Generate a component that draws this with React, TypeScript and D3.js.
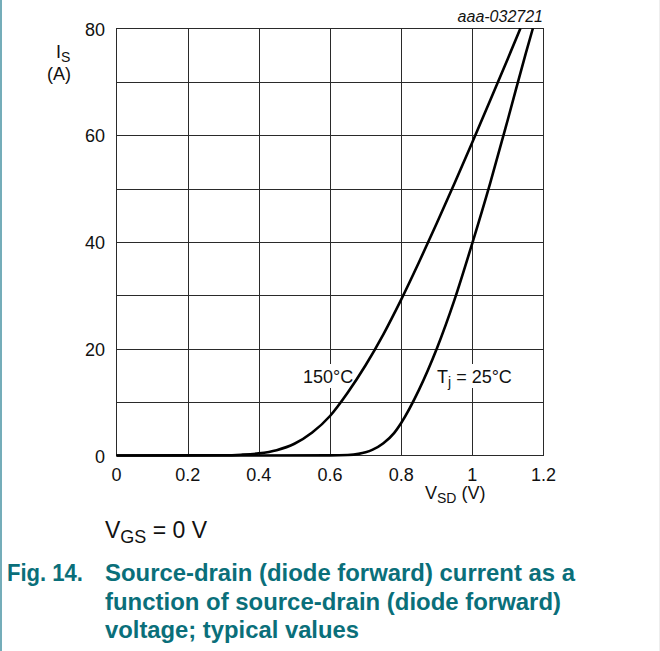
// App.tsx
// diode forward characteristic, drawn with d3 into an svg via ref

import React, { useEffect, useRef } from 'react'
import * as d3 from 'd3'

// source-drain voltage (V) and current (A)
const vsd150 = [0, 0.3, 0.35, 0.4, 0.45, 0.5, 0.55, 0.6, 0.65, 0.7, 0.75, 0.8, 0.85, 0.9, 0.95, 1.0, 1.05, 1.1, 1.135]
const is150 = [0, 0.05, 0.15, 0.4, 1.0, 2.2, 4.3, 7.4, 11.8, 16.9, 22.7, 29.2, 36.2, 43.5, 51.0, 58.7, 66.5, 74.4, 80]

const vsd25 = [0, 0.6, 0.65, 0.68, 0.7, 0.72, 0.75, 0.78, 0.8, 0.85, 0.9, 0.95, 1.0, 1.05, 1.1, 1.15, 1.17]
const is25 = [0, 0.02, 0.1, 0.3, 0.6, 1.1, 2.3, 4.2, 6.1, 12.3, 20, 29.2, 39.8, 51.0, 63.0, 75.3, 80]

const xTicks = [0, 0.2, 0.4, 0.6, 0.8, 1, 1.2]
const yTicks = [0, 20, 40, 60, 80]
const xGrid = [0.2, 0.4, 0.6, 0.8, 1.0]
const yGrid = [10, 20, 30, 40, 50, 60, 70]

const captionLines = [
  'Source-drain (diode forward) current as a',
  'function of source-drain (diode forward)',
  'voltage; typical values'
]

function App () {
  const ref = useRef<SVGSVGElement>(null)

  useEffect(() => {
    const svg = d3.select(ref.current)
    svg.selectAll('*').remove()

    const font = 'Arial, "Liberation Sans", sans-serif'
    const teal = '#0a6f7a'

    const x = d3.scaleLinear().domain([0, 1.2]).range([116.5, 543.5])
    const y = d3.scaleLinear().domain([0, 80]).range([455.5, 28.5])

    // left page border
    svg.append('line')
      .attr('x1', 1).attr('x2', 1).attr('y1', 0).attr('y2', 651)
      .attr('stroke', '#74adb9').attr('stroke-width', 2)
    svg.append('line')
      .attr('x1', 659.5).attr('x2', 659.5).attr('y1', 0).attr('y2', 651)
      .attr('stroke', '#eeeeee').attr('stroke-width', 1)

    // grid
    const grid = svg.append('g').attr('stroke', '#2a2a2a').attr('stroke-width', 1)
    grid.selectAll('.vg').data(xGrid).enter().append('line')
      .attr('x1', d => Math.round(x(d)) + 0.5).attr('x2', d => Math.round(x(d)) + 0.5)
      .attr('y1', y(0)).attr('y2', y(80))
    grid.selectAll('.hg').data(yGrid).enter().append('line')
      .attr('y1', d => Math.round(y(d)) + 0.5).attr('y2', d => Math.round(y(d)) + 0.5)
      .attr('x1', x(0)).attr('x2', x(1.2))
    grid.append('rect')
      .attr('x', x(0)).attr('y', y(80))
      .attr('width', x(1.2) - x(0)).attr('height', y(0) - y(80))
      .attr('fill', 'none')

    // white boxes behind curve labels
    svg.append('rect').attr('x', 302).attr('y', 364).attr('width', 53).attr('height', 24).attr('fill', '#fff')
    svg.append('rect').attr('x', 434).attr('y', 364).attr('width', 82).attr('height', 24).attr('fill', '#fff')

    // curves
    const line = d3.line<[number, number]>()
      .x(d => x(d[0]))
      .y(d => y(d[1]))
      .curve(d3.curveMonotoneX)

    const series = [
      d3.zip(vsd150, is150) as [number, number][],
      d3.zip(vsd25, is25) as [number, number][]
    ]
    svg.append('g').selectAll('path').data(series).enter().append('path')
      .attr('d', d => line(d))
      .attr('fill', 'none')
      .attr('stroke', '#000')
      .attr('stroke-width', 2.6)
      .attr('stroke-linejoin', 'round')

    // tick labels
    svg.append('g').selectAll('text').data(xTicks).enter().append('text')
      .attr('x', d => x(d)).attr('y', 481)
      .attr('text-anchor', 'middle')
      .attr('font-family', font).attr('font-size', 18).attr('fill', '#111')
      .text(d => String(d))
    svg.append('g').selectAll('text').data(yTicks).enter().append('text')
      .attr('x', 105).attr('y', d => y(d) + 7)
      .attr('text-anchor', 'end')
      .attr('font-family', font).attr('font-size', 18).attr('fill', '#111')
      .text(d => String(d))

    const txt = (px: number, py: number, size: number) => svg.append('text')
      .attr('x', px).attr('y', py)
      .attr('font-family', font).attr('font-size', size).attr('fill', '#111')

    // axis labels
    const ys = txt(56, 58, 18)
    ys.append('tspan').text('I')
    ys.append('tspan').attr('font-size', 14).attr('dy', 4).text('S')
    txt(47, 80, 18).text('(A)')

    const xs = txt(425, 499, 18)
    xs.append('tspan').text('V')
    xs.append('tspan').attr('font-size', 14).attr('dy', 4).text('SD')
    xs.append('tspan').attr('dy', -4).text(' (V)')

    txt(543, 22, 16).attr('text-anchor', 'end').attr('font-style', 'italic').text('aaa-032721')

    // curve labels
    txt(303, 383, 18).text('150°C')
    const tj = txt(437, 383, 18)
    tj.append('tspan').text('T')
    tj.append('tspan').attr('font-size', 14).attr('dy', 4).text('j')
    tj.append('tspan').attr('dy', -4).text(' = 25°C')

    // condition
    const vg = txt(105, 538, 23)
    vg.append('tspan').text('V')
    vg.append('tspan').attr('font-size', 18).attr('dy', 5).text('GS')
    vg.append('tspan').attr('dy', -5).text(' = 0 V')

    // caption
    const cap = (px: number, py: number, w: number, s: string) => svg.append('text')
      .attr('x', px).attr('y', py)
      .attr('font-family', font).attr('font-size', 24).attr('font-weight', 'bold')
      .attr('fill', teal)
      .attr('textLength', w).attr('lengthAdjust', 'spacingAndGlyphs')
      .text(s)
    cap(7, 581, 76, 'Fig. 14.')
    cap(105, 581, 470, captionLines[0])
    cap(105, 610, 456, captionLines[1])
    cap(105, 638, 254, captionLines[2])
  }, [])

  return (
    <svg ref={ref} width={660} height={651}
      style={{ position: 'absolute', left: 0, top: 0, background: '#fff' }} />
  )
}

export default App
